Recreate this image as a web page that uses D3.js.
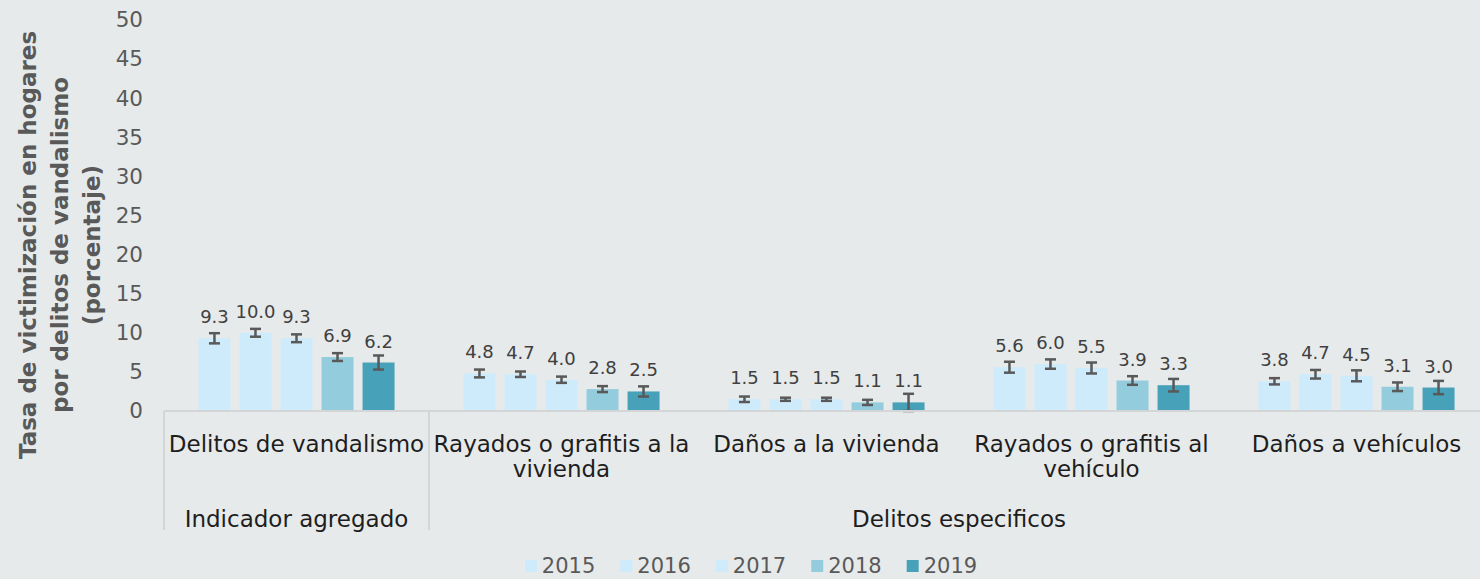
<!DOCTYPE html>
<html>
<head>
<meta charset="utf-8">
<script src="https://cdnjs.cloudflare.com/ajax/libs/d3/7.8.5/d3.min.js"></script>
<style>
    body { margin: 0; background: #e7eaeb; }
    svg { display: block; font-family: "DejaVu Sans", sans-serif; }
</style>
</head>
<body>
<div id="chart-view"></div>
<script>

// Data
const years = ["2015", "2016", "2017", "2018", "2019"];
const categories = [
    "Delitos de vandalismo",
    "Rayados o grafitis a la vivienda",
    "Daños a la vivienda",
    "Rayados o grafitis al vehículo",
    "Daños a vehículos"
];
// how each category label wraps on the axis
const categoryLines = [
    ["Delitos de vandalismo"],
    ["Rayados o grafitis a la", "vivienda"],
    ["Daños a la vivienda"],
    ["Rayados o grafitis al", "vehículo"],
    ["Daños a vehículos"]
];
const groupNames = ["Indicador agregado", "Delitos especificos"];
const groupSizes = [1, 4];

const values2015 = [9.3, 4.8, 1.5, 5.6, 3.8];
const values2016 = [10.0, 4.7, 1.5, 6.0, 4.7];
const values2017 = [9.3, 4.0, 1.5, 5.5, 4.5];
const values2018 = [6.9, 2.8, 1.1, 3.9, 3.1];
const values2019 = [6.2, 2.5, 1.1, 3.3, 3.0];

// half width of the confidence intervals
const errors2015 = [0.65, 0.5, 0.35, 0.7, 0.4];
const errors2016 = [0.5, 0.35, 0.2, 0.6, 0.55];
const errors2017 = [0.5, 0.4, 0.2, 0.7, 0.7];
const errors2018 = [0.5, 0.38, 0.33, 0.55, 0.55];
const errors2019 = [0.9, 0.65, 1.1, 0.8, 0.85];

const yTicks = [0, 5, 10, 15, 20, 25, 30, 35, 40, 45, 50];
const yTitle = ["Tasa de victimización en hogares", "por delitos de vandalismo", "(porcentaje)"];

const colors = ["#cdebfb", "#cdebfb", "#cdebfb", "#93cddd", "#47a1b8"];


// Class for the grouped bar chart
class BarChart {
    constructor() {

        this.width = 1480;
        this.height = 579;
        this.series = [values2015, values2016, values2017, values2018, values2019];
        this.errors = [errors2015, errors2016, errors2017, errors2018, errors2019];

        this.x = d3.scaleBand().domain(categories).range([164, 1489]);
        this.xInner = d3.scaleBand().domain(years)
            .range([0, this.x.bandwidth()])
            .paddingInner(0.22).paddingOuter(0.84);
        this.y = d3.scaleLinear().domain([0, 50]).range([411, 20]);

        this.svg = d3.select("#chart-view").append("svg")
            .attr("width", this.width)
            .attr("height", this.height);
    }

    // Y axis ticks and title
    drawYAxis() {

        let axis = this.svg.append("g")
            .attr("transform", "translate(143,0)")
            .call(d3.axisLeft(this.y).tickValues(yTicks).tickSize(0).tickPadding(0));

        axis.select(".domain").remove();
        axis.selectAll("text")
            .attr("font-family", "DejaVu Sans, sans-serif")
            .attr("font-size", "21.5px")
            .attr("fill", "#595959");

        let title = this.svg.append("text")
            .attr("transform", "translate(0,245) rotate(-90)")
            .attr("text-anchor", "middle")
            .attr("font-size", "23px")
            .attr("font-weight", "bold")
            .attr("fill", "#595959");

        title.selectAll("tspan")
            .data(yTitle)
            .enter().append("tspan")
            .attr("x", 0)
            .attr("y", (d, i) => 36 + i * 32)
            .text(d => d);
    }

    // Bars, error bars and value labels
    drawBars() {

        let that = this;
        let rows = [];
        categories.forEach((c, ci) => {
            years.forEach((yr, si) => {
                rows.push({cat: c, year: yr, si: si,
                    value: that.series[si][ci], err: that.errors[si][ci]});
            });
        });

        let cx = d => this.x(d.cat) + this.xInner(d.year) + this.xInner.bandwidth() / 2;

        let barGroup = this.svg.append("g").attr("class", "bars");

        barGroup.selectAll("rect")
            .data(rows)
            .enter().append("rect")
            .attr("x", d => this.x(d.cat) + this.xInner(d.year))
            .attr("width", this.xInner.bandwidth())
            .attr("y", d => this.y(d.value))
            .attr("height", d => this.y(0) - this.y(d.value))
            .attr("fill", d => colors[d.si]);

        // error bars
        let errGroup = this.svg.append("g")
            .attr("stroke", "#595959")
            .attr("stroke-width", 2.5);

        rows.forEach(d => {
            let x = cx(d);
            let top = this.y(d.value + d.err);
            let bottom = this.y(Math.max(0, d.value - d.err));
            errGroup.append("line").attr("x1", x).attr("x2", x).attr("y1", top).attr("y2", bottom);
            errGroup.append("line").attr("x1", x - 5.5).attr("x2", x + 5.5).attr("y1", top).attr("y2", top);
            errGroup.append("line").attr("x1", x - 5.5).attr("x2", x + 5.5).attr("y1", bottom).attr("y2", bottom);
        });

        // value labels
        barGroup.selectAll("text")
            .data(rows)
            .enter().append("text")
            .attr("x", cx)
            .attr("y", d => this.y(d.value) - 15)
            .attr("text-anchor", "middle")
            .attr("font-size", "18px")
            .attr("fill", "#404040")
            .text(d => d.value.toFixed(1));
    }

    // Two level category axis with separators
    drawXAxis() {

        let g = this.svg.append("g").attr("class", "x-axis");
        let lineColor = "#d3d5d6";

        g.append("line")
            .attr("x1", this.x.range()[0]).attr("x2", this.x.range()[1])
            .attr("y1", this.y(0)).attr("y2", this.y(0))
            .attr("stroke", lineColor).attr("stroke-width", 2);

        // category labels
        categories.forEach((c, i) => {
            let t = g.append("text")
                .attr("text-anchor", "middle")
                .attr("font-size", "23px")
                .attr("fill", "#1e1e1e");
            t.selectAll("tspan")
                .data(categoryLines[i])
                .enter().append("tspan")
                .attr("x", this.x(c) + this.x.bandwidth() / 2)
                .attr("y", (d, j) => 452 + j * 25)
                .text(d => d);
        });

        // outer groups
        let start = 0;
        groupNames.forEach((name, i) => {
            let first = categories[start];
            let last = categories[start + groupSizes[i] - 1];
            let x0 = this.x(first);
            let x1 = this.x(last) + this.x.bandwidth();

            g.append("line")
                .attr("x1", x0).attr("x2", x0)
                .attr("y1", this.y(0)).attr("y2", 530)
                .attr("stroke", lineColor).attr("stroke-width", 2);

            g.append("text")
                .attr("x", (x0 + x1) / 2)
                .attr("y", 527)
                .attr("text-anchor", "middle")
                .attr("font-size", "23px")
                .attr("fill", "#1e1e1e")
                .text(name);

            start += groupSizes[i];
        });
    }

    // Legend under the chart
    drawLegend() {

        let legend = this.svg.append("g").attr("class", "legend");
        let xPos = 0;

        years.forEach((yr, i) => {
            let item = legend.append("g").attr("transform", `translate(${xPos},0)`);
            item.append("rect")
                .attr("x", 0).attr("y", 560)
                .attr("width", 12).attr("height", 12)
                .attr("fill", colors[i]);
            let t = item.append("text")
                .attr("x", 17).attr("y", 573)
                .attr("font-size", "21px")
                .attr("fill", "#595959")
                .text(yr);
            xPos += 17 + t.node().getComputedTextLength() + 25;
        });

        let total = xPos - 25;
        legend.attr("transform", `translate(${751 - total / 2},0)`);
    }
}

let chart = new BarChart();
chart.drawBars();
chart.drawXAxis();
chart.drawYAxis();
chart.drawLegend();

</script>
</body>
</html>
